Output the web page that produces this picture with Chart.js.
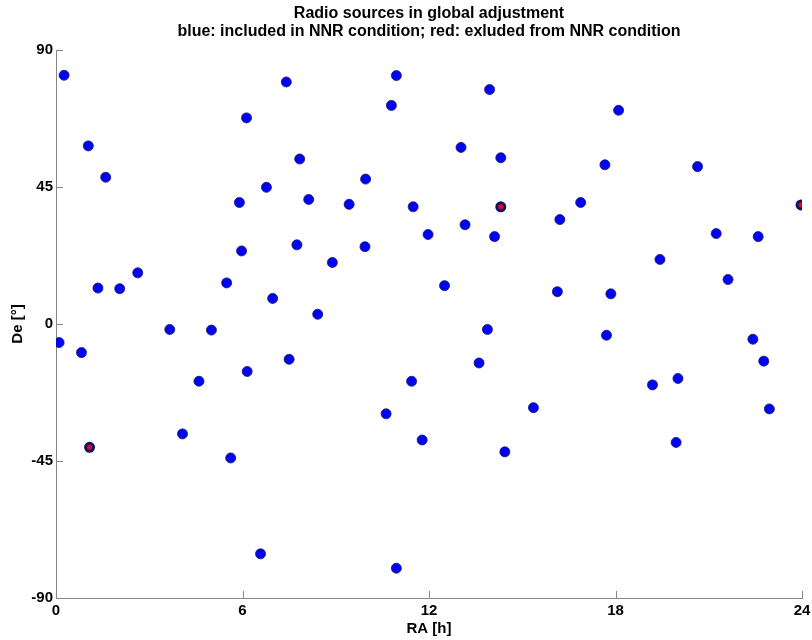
<!DOCTYPE html>
<html>
<head>
<meta charset="utf-8">
<script src="https://cdn.jsdelivr.net/npm/chart.js@4"></script>
<style>
  html, body { margin: 0; padding: 0; background: #fff; }
  #wrap { width: 812px; height: 640px; }
</style>
</head>
<body>
<div id="wrap"><canvas id="c" width="812" height="640"></canvas></div>
<script>
// ---- data ----
const titleLines = ["Radio sources in global adjustment",
                    "blue: included in NNR condition; red: exluded from NNR condition"];
const xTicks = [0, 6, 12, 18, 24];
const yTicks = [-90, -45, 0, 45, 90];

const raBlue = [0.26, 1.04, 1.60, 1.35, 2.05, 2.63, 3.66, 5.00, 7.41, 6.13,
                6.77, 5.90, 5.97, 5.49, 6.97, 7.84, 7.75, 10.95, 10.79, 13.95,
                13.03, 14.31, 9.96, 8.13, 9.43, 11.49, 13.16, 11.97, 14.11, 9.94,
                8.89, 12.50, 8.42, 13.88, 18.10, 17.66, 20.64, 16.88, 16.21, 21.24,
                22.59, 19.43, 21.62, 16.13, 17.85, 0.10, 0.82, 4.60, 4.07, 5.62,
                6.15, 7.50, 6.58, 13.61, 11.44, 10.62, 11.78, 15.36, 14.44, 10.95,
                17.71, 22.42, 22.77, 19.19, 20.01, 22.95, 19.95];
const deBlue = [81.7, 58.5, 48.2, 11.8, 11.6, 16.8, -1.8, -2.0, 79.5, 67.7,
                44.9, 39.9, 24.0, 13.5, 8.4, 54.2, 26.0, 81.6, 71.8, 77.0,
                58.0, 54.6, 47.6, 40.9, 39.3, 38.5, 32.6, 29.4, 28.7, 25.4,
                20.2, 12.6, 3.2, -1.8, 70.2, 52.3, 51.7, 39.9, 34.3, 29.7,
                28.7, 21.2, 14.6, 10.6, 9.9, -6.1, -9.4, -18.8, -36.1, -44.0,
                -15.6, -11.6, -75.5, -12.8, -18.8, -29.5, -38.1, -27.5, -42.0, -80.2,
                -3.7, -5.0, -12.2, -20.0, -17.9, -27.9, -38.9];
const raRed = [14.31, 23.97, 1.08];
const deRed = [38.5, 39.1, -40.5];

const toPts = (xs, ys) => xs.map((x, i) => ({ x: x, y: ys[i] }));

const FONT = "'Liberation Sans', Arial, Helvetica, sans-serif";

// inward tick marks + title
const decor = {
  id: 'decor',
  afterDraw(chart) {
    const ctx = chart.ctx;
    const xs = chart.scales.x, ys = chart.scales.y;
    const a = chart.chartArea;
    ctx.save();
    ctx.strokeStyle = '#888';
    ctx.lineWidth = 1;
    ctx.beginPath();
    xTicks.forEach(v => {
      const px = Math.round(xs.getPixelForValue(v)) + 0.5;
      ctx.moveTo(px, a.bottom); ctx.lineTo(px, a.bottom - 7);
    });
    yTicks.forEach(v => {
      const py = Math.round(ys.getPixelForValue(v)) + 0.5;
      ctx.moveTo(a.left, py); ctx.lineTo(a.left + 7, py);
    });
    ctx.stroke();
    ctx.fillStyle = '#000';
    ctx.font = "bold 16px " + FONT;
    ctx.textAlign = 'center';
    ctx.textBaseline = 'middle';
    const cx = (a.left + a.right) / 2;
    ctx.fillText(titleLines[0], cx, 14);
    ctx.fillText(titleLines[1], cx, 32);
    ctx.restore();
  }
};

new Chart(document.getElementById('c'), {
  type: 'scatter',
  data: {
    datasets: [
      {
        label: 'included',
        data: toPts(raBlue, deBlue),
        backgroundColor: '#0000ff',
        borderColor: 'rgba(30,30,90,0.85)',
        borderWidth: 1,
        pointRadius: 5,
        pointHoverRadius: 5
      },
      {
        label: 'excluded',
        data: toPts(raRed, deRed),
        backgroundColor: '#ff0000',
        borderColor: '#10106a',
        borderWidth: 3,
        pointRadius: 4,
        pointHoverRadius: 4
      }
    ]
  },
  options: {
    responsive: false,
    animation: false,
    events: [],
    layout: { padding: { top: 50, right: 10, left: 0, bottom: 0 } },
    plugins: { legend: { display: false }, title: { display: false }, tooltip: { enabled: false } },
    scales: {
      x: {
        type: 'linear', min: 0, max: 24,
        afterBuildTicks: s => { s.ticks = xTicks.map(v => ({ value: v })); },
        afterFit: s => { s.height = 42; s.paddingLeft = 0; s.paddingRight = 0; },
        ticks: { color: '#000', font: { family: FONT, size: 15, weight: 'bold' }, padding: 4, maxRotation: 0 },
        grid: { display: true, drawOnChartArea: false, drawTicks: false },
        border: { color: '#888', width: 1 },
        title: { display: true, text: 'RA [h]', color: '#000', font: { family: FONT, size: 15, weight: 'bold' }, padding: { top: 0, bottom: 2 } }
      },
      y: {
        type: 'linear', min: -90, max: 90,
        afterBuildTicks: s => { s.ticks = yTicks.map(v => ({ value: v })); },
        afterFit: s => { s.width = 56; s.paddingTop = 0; s.paddingBottom = 0; },
        ticks: { color: '#000', font: { family: FONT, size: 15, weight: 'bold' }, padding: 3 },
        grid: { display: true, drawOnChartArea: false, drawTicks: false },
        border: { color: '#888', width: 1 },
        title: { display: true, text: 'De [°]', color: '#000', font: { family: FONT, size: 15, weight: 'bold' }, padding: { top: 9, bottom: 0 } }
      }
    }
  },
  plugins: [decor]
});
</script>
</body>
</html>
